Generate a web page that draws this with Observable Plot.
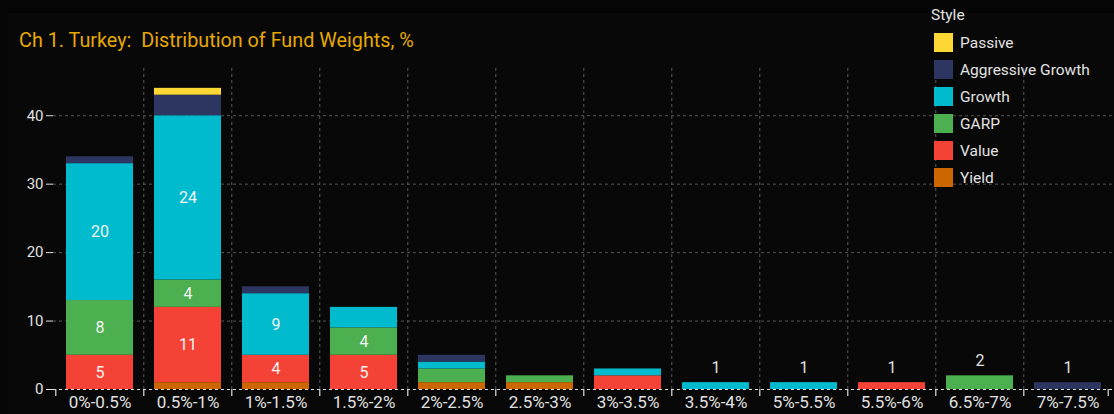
<!DOCTYPE html>
<html>
<head>
<meta charset="utf-8">
<script src="https://cdn.jsdelivr.net/npm/d3@7"></script>
<script src="https://cdn.jsdelivr.net/npm/@observablehq/plot@0.6"></script>
<style>
  html, body { margin: 0; padding: 0; background: #050505; }
  #wrap { position: relative; width: 1114px; height: 414px; overflow: hidden; background: #050505; font-family: Roboto, "Noto Sans", sans-serif; }
  #panel { position: absolute; left: 8px; top: 13px; right: 0; bottom: 0; background: #080808; }
  #title { position: absolute; left: 19px; top: 29px; color: #E6A800; font-size: 19.8px; white-space: pre; }
  #chart { position: absolute; left: 0; top: 60px; }
  #legend { position: absolute; left: 931px; top: 6px; color: #e2e2e2; font-size: 15.5px; }
  #legend .ttl { margin-bottom: 5px; }
  #legend .row { display: flex; align-items: center; height: 27px; margin-left: 3px; }
  #legend .sw { width: 19px; height: 19px; margin-right: 7px; }
</style>
</head>
<body>
<div id="wrap">
  <div id="panel"></div>
  <div id="title">Ch 1. Turkey:  Distribution of Fund Weights, %</div>
  <div id="chart"></div>
  <div id="legend"></div>
</div>
<script>
const bins = ["0%-0.5%","0.5%-1%","1%-1.5%","1.5%-2%","2%-2.5%","2.5%-3%","3%-3.5%","3.5%-4%","5%-5.5%","5.5%-6%","6.5%-7%","7%-7.5%"];
const styles = ["Passive","Aggressive Growth","Growth","GARP","Value","Yield"];
const styleColors = ["#FDD835","#2D3561","#00BBCE","#4CAF50","#F44336","#CC6600"];

const yieldVals   = [0,1,1,0,1,1,0,0,0,0,0,0];
const valueVals   = [5,11,4,5,0,0,2,0,0,1,0,0];
const garpVals    = [8,4,0,4,2,1,0,0,0,0,2,0];
const growthVals  = [20,24,9,3,1,0,1,1,1,0,0,0];
const aggVals     = [1,3,1,0,1,0,0,0,0,0,0,1];
const passiveVals = [0,1,0,0,0,0,0,0,0,0,0,0];
const yTicks = [0,10,20,30,40];

const series = {
  "Passive": passiveVals, "Aggressive Growth": aggVals, "Growth": growthVals,
  "GARP": garpVals, "Value": valueVals, "Yield": yieldVals
};
const stackOrder = ["Yield","Value","GARP","Growth","Aggressive Growth","Passive"];

const rows = [];
for (const s of stackOrder) bins.forEach((b, i) => { if (series[s][i] > 0) rows.push({bin: b, style: s, value: series[s][i]}); });

const totals = bins.map((b, i) => {
  const segs = stackOrder.filter(s => series[s][i] > 0);
  return {bin: b, total: d3.sum(stackOrder, s => series[s][i]), n: segs.length};
});
const singles = totals.filter(t => t.n === 1);

const W = 1114, H = 354, ML = 53, MR = 0, MT = 8, MB = 25;
const step = (W - ML - MR) / bins.length;
const inner = bins.slice(1);

const chart = Plot.plot({
  width: W, height: H,
  marginLeft: ML, marginRight: MR, marginTop: MT, marginBottom: MB,
  style: {background: "transparent", color: "#e0e0e0", fontFamily: "Roboto, 'Noto Sans', sans-serif", fontSize: "15px"},
  x: {domain: bins, paddingInner: 0.24, paddingOuter: 0.12},
  y: {type: "linear", domain: [0, 46.9]},
  color: {domain: styles, range: styleColors},
  marks: [
    Plot.gridY(yTicks.filter(t => t > 0), {stroke: "#555", strokeOpacity: 1, strokeDasharray: "3,3"}),
    Plot.ruleX(inner, {x: d => d, dx: -step / 2, stroke: "#555", strokeDasharray: "3,3"}),
    Plot.axisX({label: null, tickSize: 0, tickPadding: 6, fontSize: 17, fill: "#e0e0e0"}),
    Plot.axisY(yTicks, {label: null, tickSize: 7, tickPadding: 3, fontSize: 15, fill: "#e0e0e0"}),
    Plot.barY(rows, Plot.stackY({x: "bin", y: "value", z: "style", fill: "style", order: stackOrder})),
    Plot.text(rows, Plot.stackY({x: "bin", y: "value", z: "style", order: stackOrder,
      text: d => d.value >= 4 ? String(d.value) : "", fill: "#f2f2f2", fontSize: 16})),
    Plot.text(singles, {x: "bin", y: "total", text: d => String(d.total), dy: -15, fill: "#e0e0e0", fontSize: 16}),
    Plot.ruleY([0], {stroke: "#ddd", strokeDasharray: "3,3"}),
    Plot.ruleX(bins, {x: d => d, dx: -step / 2, y1: 0, y2: 0, insetBottom: -7, stroke: "#ddd", strokeWidth: 1.2}),
    Plot.ruleX([bins[bins.length - 1]], {x: d => d, dx: step / 2 - 4, y1: 0, y2: 0, insetBottom: -7, stroke: "#ddd", strokeWidth: 1.2})
  ]
});
document.getElementById("chart").appendChild(chart);

const legend = document.getElementById("legend");
const ttl = document.createElement("div");
ttl.className = "ttl"; ttl.textContent = "Style";
legend.appendChild(ttl);
styles.forEach((s, i) => {
  const row = document.createElement("div"); row.className = "row";
  const sw = document.createElement("div"); sw.className = "sw"; sw.style.background = styleColors[i];
  const lb = document.createElement("span"); lb.textContent = s;
  row.appendChild(sw); row.appendChild(lb); legend.appendChild(row);
});
</script>
</body>
</html>
